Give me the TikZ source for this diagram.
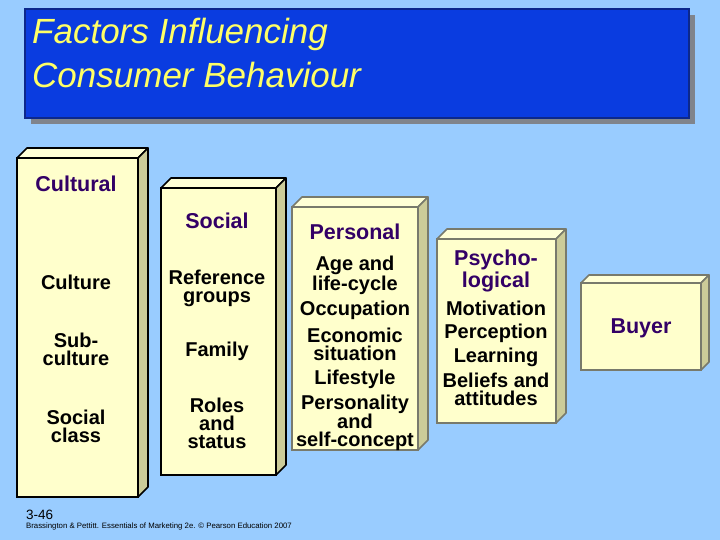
\documentclass[tikz,border=0pt]{standalone}
\usepackage{fontspec}
\setmainfont{Liberation Sans}
\usetikzlibrary{shadows}
\definecolor{slidesky}{RGB}{153,204,255}
\definecolor{titleblue}{RGB}{10,60,224}
\definecolor{titleedge}{RGB}{12,40,140}
\definecolor{titleyellow}{RGB}{255,255,102}
\definecolor{shadowgrey}{RGB}{128,132,140}
\definecolor{slabfront}{RGB}{255,255,204}
\definecolor{slabtop}{RGB}{255,255,214}
\definecolor{slabside}{RGB}{204,204,153}
\definecolor{slabgrey}{RGB}{120,122,108}
\definecolor{headpurple}{RGB}{51,0,102}

\begin{document}
\begin{tikzpicture}[x=1pt,y=-1pt,
  slab/.style={draw,fill=slabfront,line width=1.6pt,outer sep=0pt,inner sep=0pt},
  head/.style={font=\bfseries\fontsize{21.5}{20}\selectfont,text=headpurple,align=center,inner sep=0pt},
  item/.style={font=\bfseries\fontsize{20}{18}\selectfont,align=center,inner sep=0pt}]
  \useasboundingbox (0,0) rectangle (720,540);
  \fill[slidesky] (0,0) rectangle (720,540);

  % title
  \node[draw=titleedge,fill=titleblue,line width=1.5pt,outer sep=0pt,minimum width=664pt,minimum height=109pt,
    drop shadow={shadow xshift=6pt,shadow yshift=-6pt,fill=shadowgrey,opacity=1}] (ttlbox) at (357,63.5) {};
  \node[anchor=base west,inner sep=0pt,text=titleyellow,font=\itshape\fontsize{35}{40}\selectfont] (ttl1) at (32,44)
    {Factors Influencing};
  \node[anchor=base west,inner sep=0pt,text=titleyellow,font=\itshape\fontsize{35}{40}\selectfont] (ttl2) at (32,88)
    {Consumer Behaviour};

  % slabs
  \node[slab,draw=black,minimum width=121pt,minimum height=339pt] (cult) at (77.5,327.5) {};
  \node[slab,draw=black,minimum width=115pt,minimum height=287pt] (soc) at (218.5,331.5) {};
  \node[slab,draw=slabgrey,minimum width=126pt,minimum height=243pt] (pers) at (355,328.5) {};
  \node[slab,draw=slabgrey,minimum width=119pt,minimum height=184pt] (psy) at (496.5,331) {};
  \node[slab,draw=slabgrey,minimum width=120pt,minimum height=87pt] (buy) at (641,326.5) {};
  \foreach \b/\d/\c in {cult/10/black,soc/10/black,pers/10/slabgrey,psy/10/slabgrey,buy/8/slabgrey}{
    \filldraw[fill=slabtop,draw=\c,line width=1.6pt,line join=round]
      (\b.north west) -- ++(\d,-\d) -- ([shift={(\d,-\d)}]\b.north east) -- (\b.north east) -- cycle;
    \filldraw[fill=slabside,draw=\c,line width=1.6pt,line join=round]
      (\b.north east) -- ++(\d,-\d) -- ([shift={(\d,-\d)}]\b.south east) -- (\b.south east) -- cycle;
  }

  % cultural
  \node[head] (culthd) at (76,184) {Cultural};
  \node[item] (culture) at (76,282) {Culture};
  \node[item] (subcult) at (76,349) {Sub-\\culture};
  \node[item] (sclass) at (76,426) {Social\\class};
  % social
  \node[head] (sochd) at (217,221) {Social};
  \node[item] (refgrp) at (217,288) {Reference\\groups};
  \node[item] (family) at (217,351) {Family};
  \node[item] (roles) at (217,423) {Roles\\and\\status};
  % personal
  \node[head] (pershd) at (355,232) {Personal};
  \node[item] (age) at (355,275) {Age and\\life-cycle};
  \node[item] (occup) at (355,310) {Occupation};
  \node[item] (econ) at (355,344.5) {Economic\\situation};
  \node[item] (life) at (355,379) {Lifestyle};
  \node[item] (persty) at (355,423) {Personality\\and\\self-concept};
  % psychological
  \node[head] (psyhd) at (496,271) {Psycho-\\logical};
  \node[item] (motiv) at (496,308) {Motivation};
  \node[item] (percep) at (496,333) {Perception};
  \node[item] (learn) at (496,357) {Learning};
  \node[item] (belief) at (496,389) {Beliefs and\\attitudes};
  % buyer
  \node[head] (buyhd) at (641,328) {Buyer};

  % footer
  \node[anchor=base west,inner sep=0pt,font=\fontsize{13.5}{15}\selectfont] (slideno) at (26,519) {3-46};
  \node[anchor=base west,inner sep=0pt,font=\fontsize{7.8}{9}\selectfont] (credit) at (26,528)
    {Brassington \& Pettitt. Essentials of Marketing 2e. \textcopyright{} Pearson Education 2007};
\end{tikzpicture}
\end{document}
